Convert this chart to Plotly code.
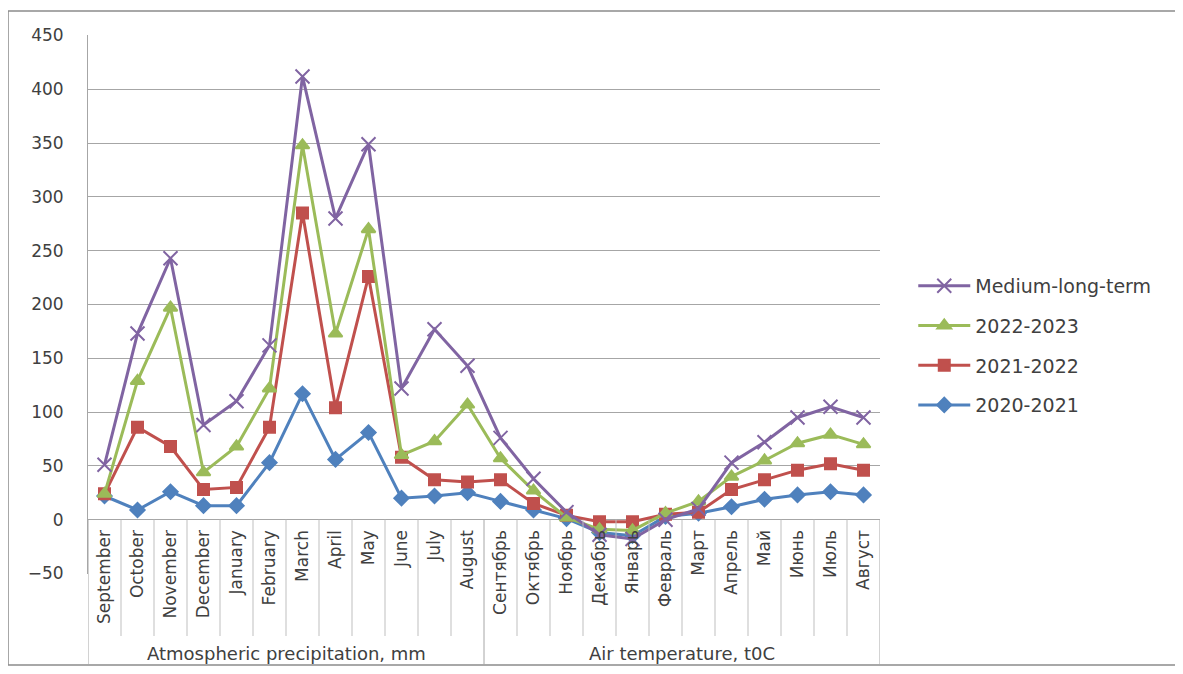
import plotly.graph_objects as go

group_labels = ["Atmospheric precipitation, mm", "Air temperature, t0C"]
months = ["September", "October", "November", "December", "January", "February",
          "March", "April", "May", "June", "July", "August",
          "Сентябрь", "Октябрь", "Ноябрь", "Декабрь", "Январь", "Февраль",
          "Март", "Апрель", "Май", "Июнь", "Июль", "Август"]

medium_long_term = [51, 173, 243, 88, 110, 162, 412, 280, 349, 122, 177, 143,
                    76, 38, 7, -14, -18, 0, 10, 53, 72, 95, 105, 95]
y2022_2023 = [24, 129, 197, 44, 68, 122, 348, 173, 270, 60, 73, 107,
              57, 27, 2, -9, -10, 6, 17, 40, 55, 71, 79, 70]
y2021_2022 = [24, 86, 68, 28, 30, 86, 285, 104, 226, 58, 37, 35,
              37, 15, 4, -2, -2, 5, 7, 28, 37, 46, 52, 46]
y2020_2021 = [22, 9, 26, 13, 13, 53, 117, 56, 81, 20, 22, 25,
              17, 9, 1, -12, -15, 3, 6, 12, 19, 23, 26, 23]

series = [
    ("2020-2021", y2020_2021, "#4F81BD", "diamond", 11, 4),
    ("2021-2022", y2021_2022, "#C0504D", "square", 11, 3),
    ("2022-2023", y2022_2023, "#9BBB59", "triangle-up", 12, 2),
    ("Medium-long-term", medium_long_term, "#8064A2", "x-thin", 14, 1),
]

FONT = "DejaVu Sans"
TXT = "#404040"
GRID = "#A6A6A6"

Y_MIN, Y_MAX = -50.5, 450.5
zero_pos = (0 - Y_MIN) / (Y_MAX - Y_MIN)

fig = go.Figure()
for name, vals, col, sym, sz, rank in series:
    fig.add_trace(go.Scatter(
        x=months, y=vals, name=name, mode="lines+markers",
        legendgroup=name, legendrank=rank,
        line=dict(color=col, width=3),
        marker=dict(symbol=sym, size=sz, color=col,
                    line=dict(color=col, width=2)),
    ))

fig.update_layout(
    width=1167, height=658,
    margin=dict(l=80, r=295, t=27, b=92),
    paper_bgcolor="white", plot_bgcolor="white",
    font=dict(family=FONT, size=16, color=TXT),
    showlegend=True,
    legend=dict(x=1.042, y=0.424, xanchor="left", yanchor="middle",
                traceorder="grouped", tracegroupgap=12, itemwidth=52,
                font=dict(family=FONT, size=19, color=TXT),
                bgcolor="rgba(0,0,0,0)"),
    xaxis=dict(
        type="category", anchor="free", position=zero_pos,
        range=[-0.5, 23.5],
        showgrid=False, showline=False, ticks="",
        tickangle=-90, ticklabelstandoff=6,
        tickfont=dict(family=FONT, size=17, color=TXT),
        automargin=False, zeroline=False,
    ),
    yaxis=dict(
        range=[Y_MIN, Y_MAX], tickvals=list(range(-50, 451, 50)),
        showgrid=True, gridcolor=GRID,
        gridwidth=1, zeroline=False, showline=True, linecolor=GRID,
        tickfont=dict(family=FONT, size=17, color=TXT), ticks="",
        ticklabelstandoff=20, automargin=False,
    ),
)

# outer chart border
BOTTOM = (566 - 657) / 539
TICK_END = (566 - 628) / 539
fig.add_shape(type="rect", xref="paper", yref="paper",
              x0=-0.101, x1=1.4, y0=BOTTOM, y1=1.0445,
              line=dict(color="#8C8C8C", width=1.5), fillcolor="rgba(0,0,0,0)",
              layer="below")

# category separators below the axis
for i in range(len(months) + 1):
    xb = i - 0.5
    long_line = i in (0, 12, len(months))
    fig.add_shape(type="line", xref="x", yref="paper",
                  x0=xb, x1=xb, y0=zero_pos, y1=BOTTOM if long_line else TICK_END,
                  line=dict(color=GRID if long_line else "#BFBFBF", width=1))

# group labels
for lbl, xc in zip(group_labels, (5.5, 17.5)):
    fig.add_annotation(text=lbl, xref="x", yref="paper", x=xc,
                       y=(566 - 645) / 539, showarrow=False,
                       font=dict(family=FONT, size=18, color=TXT),
                       xanchor="center", yanchor="middle")

fig.write_html("out.html")
